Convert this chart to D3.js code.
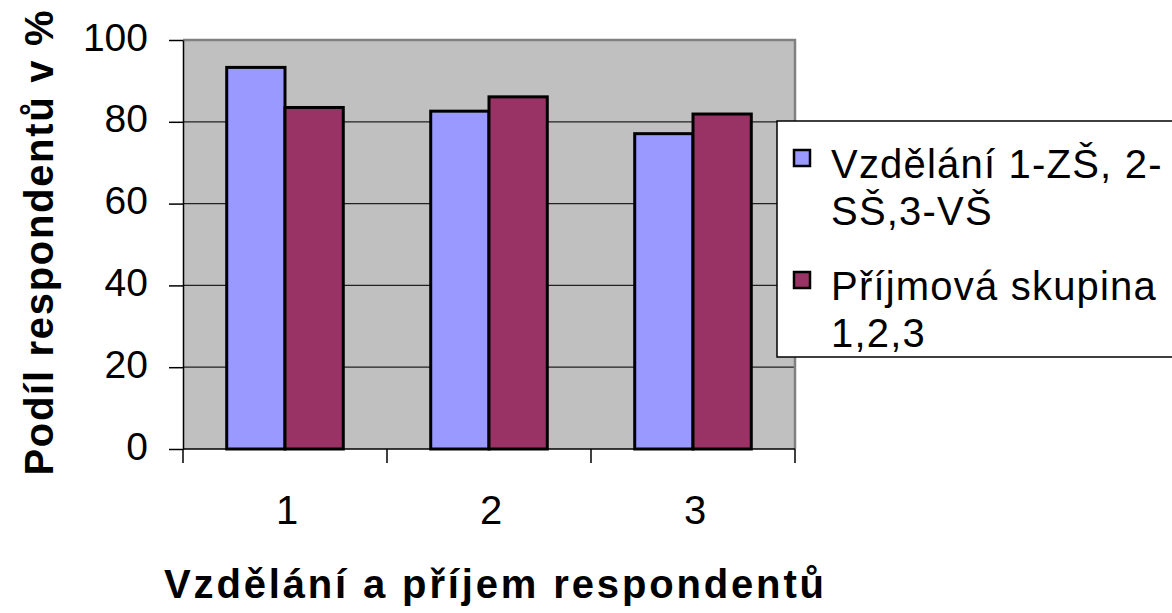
<!DOCTYPE html>
<html>
<head>
<meta charset="utf-8">
<script src="https://cdn.jsdelivr.net/npm/d3@7"></script>
<style>
  body { margin: 0; background: #fff; }
  svg { display: block; font-family: "Liberation Sans", Arial, sans-serif; }
</style>
</head>
<body>
<div id="chart"></div>
<script>
// data
var categories = ["1", "2", "3"];
var seriesNames = ["Vzdělání 1-ZŠ, 2-SŠ,3-VŠ", "Příjmová skupina 1,2,3"];
var education = [93.3, 82.6, 77.1];
var income = [83.5, 86.1, 81.9];
var yTicks = [0, 20, 40, 60, 80, 100];
var legendLines = [["Vzdělání 1-ZŠ, 2-", "SŠ,3-VŠ"], ["Příjmová skupina", "1,2,3"]];

var width = 1172, height = 613;
var plot = {left: 183, top: 40, width: 612, height: 409};
var colors = ["#9999FF", "#993366"];

var rows = categories.map(function(c, i){
  return {cat: c, values: [education[i], income[i]]};
});

var svg = d3.select('#chart')
  .append('svg')
  .attr('width', width)
  .attr('height', height);

var g = svg.append('g')
  .attr('transform', 'translate(' + plot.left + ',' + plot.top + ')');

// scales
var x0 = d3.scaleBand().domain(categories).range([0, plot.width]).padding(0);
var x1 = d3.scaleBand().domain([0, 1]).range([0, x0.bandwidth()])
  .paddingInner(0).paddingOuter(0.75);
var y = d3.scaleLinear().domain([0, 100]).range([plot.height, 0]);

// plot background
g.append('rect')
  .attr('width', plot.width)
  .attr('height', plot.height)
  .attr('fill', '#C0C0C0');

// gridlines
g.selectAll('line.grid')
  .data(yTicks.filter(function(d){ return d > 0 && d < 100; }))
  .enter()
  .append('line')
  .attr('class', 'grid')
  .attr('x1', 0).attr('x2', plot.width)
  .attr('y1', d => y(d)).attr('y2', d => y(d))
  .attr('stroke', '#222')
  .attr('stroke-width', 1.2);

// plot border (top + right gray)
g.append('path')
  .attr('d', 'M0,' + y(100) + 'H' + plot.width + 'V' + plot.height)
  .attr('fill', 'none')
  .attr('stroke', '#808080')
  .attr('stroke-width', 2.5);

// bars
g.selectAll('g.cat')
  .data(rows)
  .enter()
  .append('g')
  .attr('class', 'cat')
  .attr('transform', d => 'translate(' + x0(d.cat) + ',0)')
  .selectAll('rect')
  .data(d => d.values.map(function(v, i){ return {s: i, v: v}; }))
  .enter()
  .append('rect')
  .attr('x', d => x1(d.s))
  .attr('y', d => y(d.v))
  .attr('width', x1.bandwidth())
  .attr('height', d => plot.height - y(d.v))
  .attr('fill', d => colors[d.s])
  .attr('stroke', '#000')
  .attr('stroke-width', 3);

// y axis
var yAxis = g.append('g')
  .call(d3.axisLeft(y).tickValues(yTicks).tickSize(14).tickPadding(8).tickSizeOuter(0));
yAxis.select('.domain').attr('stroke', '#000').attr('stroke-width', 1.5);
yAxis.selectAll('.tick line').attr('stroke', '#000').attr('stroke-width', 1.5);
yAxis.selectAll('.tick text')
  .attr('font-size', 39)
  .attr('font-family', '"Liberation Sans", Arial, sans-serif')
  .attr('fill', '#000')
  .attr('x', -35)
  .attr('dy', '0.26em');

// x axis with ticks at category boundaries
var xAxisG = g.append('g').attr('transform', 'translate(0,' + plot.height + ')');
xAxisG.append('line')
  .attr('x1', 0).attr('x2', plot.width)
  .attr('stroke', '#000').attr('stroke-width', 1.5);
var bounds = categories.map(c => x0(c)).concat([plot.width]);
xAxisG.selectAll('line.tick')
  .data(bounds)
  .enter()
  .append('line')
  .attr('class', 'tick')
  .attr('x1', d => d).attr('x2', d => d)
  .attr('y1', 0).attr('y2', 14)
  .attr('stroke', '#000').attr('stroke-width', 1.5);
xAxisG.selectAll('text')
  .data(categories)
  .enter()
  .append('text')
  .attr('x', d => x0(d) + x0.bandwidth() / 2 + 2)
  .attr('y', 75)
  .attr('text-anchor', 'middle')
  .attr('font-size', 40)
  .text(d => d);

// axis titles
svg.append('text')
  .attr('x', 494)
  .attr('y', 598)
  .attr('text-anchor', 'middle')
  .attr('font-size', 40)
  .attr('font-weight', 'bold')
  .attr('textLength', 660)
  .attr('lengthAdjust', 'spacing')
  .text('Vzdělání a příjem respondentů');

svg.append('text')
  .attr('transform', 'translate(53,243) rotate(-90)')
  .attr('text-anchor', 'middle')
  .attr('font-size', 40)
  .attr('font-weight', 'bold')
  .attr('textLength', 465)
  .attr('lengthAdjust', 'spacing')
  .text('Podíl respondentů v %');

// legend
var legend = svg.append('g').attr('transform', 'translate(777,121)');
legend.append('rect')
  .attr('x', 0).attr('y', 0)
  .attr('width', 420).attr('height', 236)
  .attr('fill', '#fff')
  .attr('stroke', '#000')
  .attr('stroke-width', 1.5);

var entry = legend.selectAll('g.entry')
  .data(seriesNames)
  .enter()
  .append('g')
  .attr('class', 'entry')
  .attr('transform', (d, i) => 'translate(0,' + (i * 122) + ')');

entry.append('rect')
  .attr('x', 17).attr('y', 29)
  .attr('width', 16).attr('height', 16)
  .attr('fill', (d, i) => colors[i])
  .attr('stroke', '#000')
  .attr('stroke-width', 2.5);

entry.selectAll('text')
  .data((d, i) => legendLines[i])
  .enter()
  .append('text')
  .attr('x', 54)
  .attr('y', (d, j) => 57 + j * 47)
  .attr('font-size', 40)
  .attr('letter-spacing', '1.2px')
  .text(d => d);
</script>
</body>
</html>
